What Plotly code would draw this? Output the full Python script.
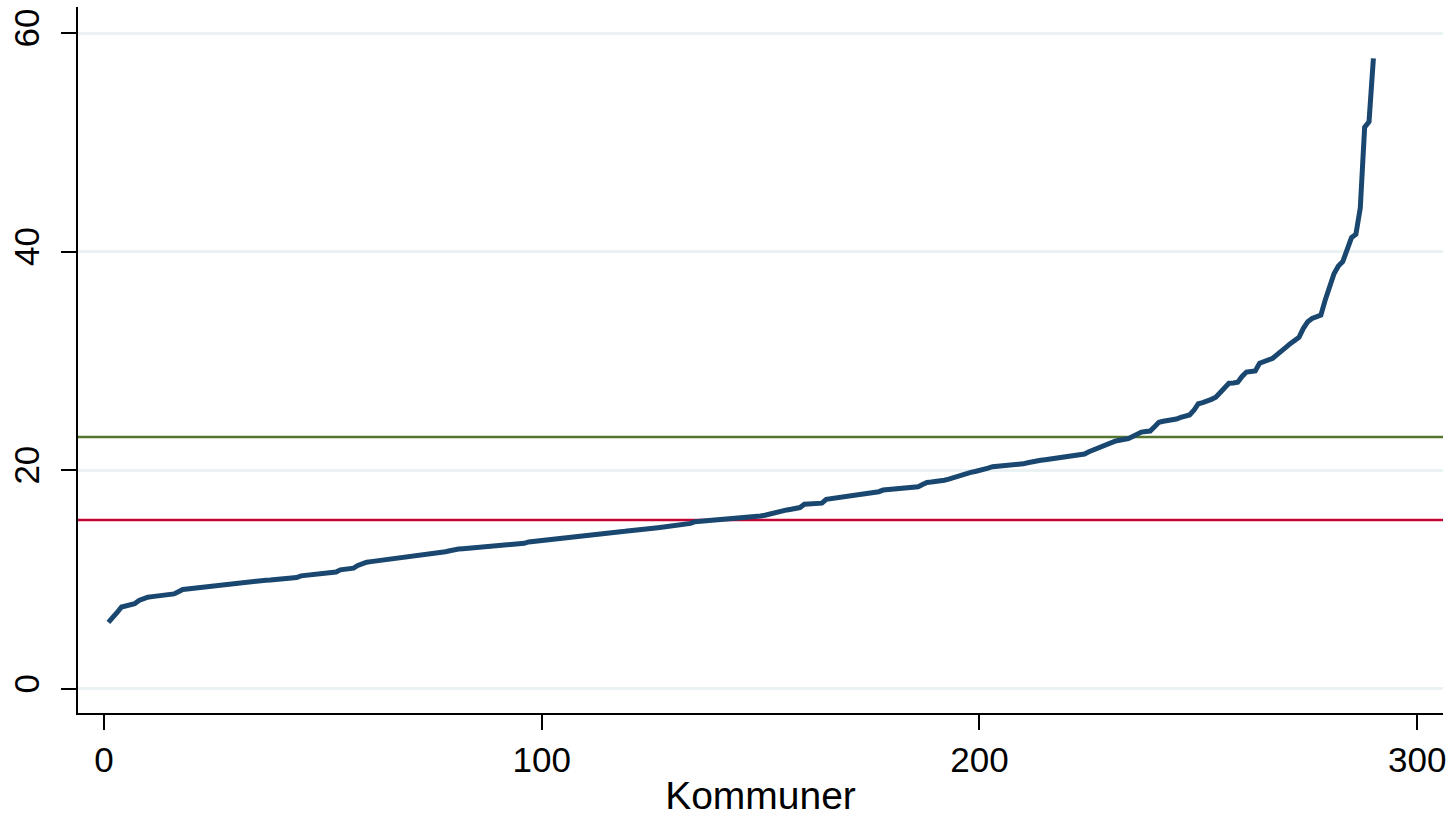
import plotly.graph_objects as go

# Sorted values per municipality (index 1..290)
values = [
    6.1, 6.5, 7.0, 7.5, 7.6, 7.7, 7.8, 8.1, 8.3, 8.4,
    8.45, 8.5, 8.55, 8.6, 8.65, 8.7, 8.9, 9.1, 9.15, 9.2,
    9.22, 9.27, 9.3, 9.35, 9.4, 9.45, 9.55, 9.6, 9.62, 9.67,
    9.7, 9.75, 9.8, 9.82, 9.86, 9.9, 9.95, 9.97, 10.0, 10.03,
    10.05, 10.07, 10.1, 10.2, 10.35, 10.4, 10.45, 10.5, 10.55, 10.6,
    10.62, 10.65, 10.7, 10.9, 10.95, 11.0, 11.05, 11.3, 11.5, 11.6,
    11.65, 11.7, 11.72, 11.75, 11.8, 11.86, 11.9, 11.95, 12.0, 12.05,
    12.1, 12.2, 12.25, 12.3, 12.38, 12.42, 12.48, 12.56, 12.65, 12.75,
    12.8, 12.83, 12.86, 12.9, 12.94, 12.97, 13.0, 13.05, 13.1, 13.15,
    13.17, 13.2, 13.23, 13.26, 13.3, 13.33, 13.45, 13.5, 13.55, 13.6,
    13.63, 13.67, 13.7, 13.75, 13.8, 13.85, 13.9, 13.93, 13.97, 14.02,
    14.06, 14.1, 14.18, 14.23, 14.28, 14.33, 14.36, 14.39, 14.42, 14.45,
    14.5, 14.55, 14.6, 14.64, 14.68, 14.72, 14.77, 14.82, 14.87, 14.91,
    14.94, 14.97, 15.0, 15.15, 15.3, 15.33, 15.36, 15.39, 15.42, 15.45,
    15.47, 15.49, 15.52, 15.55, 15.57, 15.6, 15.65, 15.7, 15.76, 15.82,
    15.9, 16.0, 16.17, 16.25, 16.32, 16.38, 16.44, 16.5, 16.6, 16.9,
    16.92, 16.94, 16.96, 17.0, 17.35, 17.4, 17.45, 17.55, 17.66, 17.7,
    17.73, 17.76, 17.79, 17.82, 17.86, 17.9, 18.05, 18.2, 18.25, 18.28,
    18.31, 18.34, 18.37, 18.4, 18.44, 18.5, 18.7, 18.9, 18.93, 18.95,
    18.97, 19.1, 19.2, 19.33, 19.5, 19.67, 19.75, 19.82, 19.9, 19.97,
    20.1, 20.2, 20.34, 20.37, 20.4, 20.42, 20.45, 20.48, 20.5, 20.6,
    20.7, 20.8, 20.86, 20.92, 20.98, 21.04, 21.1, 21.15, 21.2, 21.25,
    21.3, 21.35, 21.42, 21.5, 21.7, 21.87, 22.05, 22.25, 22.45, 22.6,
    22.68, 22.76, 22.84, 22.9, 23.1, 23.35, 23.5, 23.55, 23.6, 24.0,
    24.4, 24.5, 24.55, 24.6, 24.7, 24.85, 24.95, 25.07, 25.5, 26.1,
    26.2, 26.3, 26.5, 26.7, 27.1, 27.6, 27.97, 28.0, 28.06, 28.6,
    29.0, 29.05, 29.1, 29.8, 29.95, 30.1, 30.26, 30.6, 31.0, 31.26,
    31.6, 31.9, 32.17, 33.0, 33.6, 33.9, 34.05, 34.2, 35.6, 37.0,
    38.0, 38.7, 39.1, 40.2, 41.3, 41.6, 44.0, 51.4, 51.9, 57.7,
]
kommun_index = list(range(1, len(values) + 1))

reference_green = 23.05
reference_red = 15.46

x_ticks = [0, 100, 200, 300]
y_ticks = [0, 20, 40, 60]

FONT = "Liberation Sans, Arial, sans-serif"

fig = go.Figure()
fig.add_trace(go.Scatter(
    x=kommun_index, y=values, mode="lines",
    line=dict(color="#1a476f", width=5),
    showlegend=False, hoverinfo="x+y",
))

fig.add_hline(y=reference_green, line=dict(color="#55752f", width=2.6), layer="below")
fig.add_hline(y=reference_red, line=dict(color="#c10534", width=2.6), layer="below")

fig.update_layout(
    width=1450, height=817,
    margin=dict(l=78, r=7, t=7, b=104, autoexpand=False),
    paper_bgcolor="white", plot_bgcolor="white",
    font=dict(family=FONT, size=35, color="black"),
    showlegend=False,
)

fig.update_xaxes(
    range=[-5.94, 305.9], automargin=False,
    tickmode="array", tickvals=x_ticks, ticktext=[str(t) for t in x_ticks],
    showgrid=False, zeroline=False,
    showline=True, linecolor="black", linewidth=2,
    ticks="outside", ticklen=15, tickwidth=2, tickcolor="black",
    tickfont=dict(size=35, family=FONT),
    title=dict(text="Kommuner", font=dict(size=39, family=FONT), standoff=4),
)
fig.update_yaxes(
    range=[-2.2, 62.4], automargin=False,
    tickmode="array", tickvals=y_ticks, ticktext=[str(t) for t in y_ticks],
    showgrid=True, gridcolor="#eaf2f3", gridwidth=2.5,
    zeroline=False,
    showline=True, linecolor="black", linewidth=2,
    ticks="outside", ticklen=15, tickwidth=2, tickcolor="black",
    tickangle=-90, ticklabelstandoff=8,
    tickfont=dict(size=35, family=FONT),
)

fig.write_html(
    "out.html",
    config={"displayModeBar": False},
    post_script="document.body.style.margin='0';document.body.style.padding='0';",
)
